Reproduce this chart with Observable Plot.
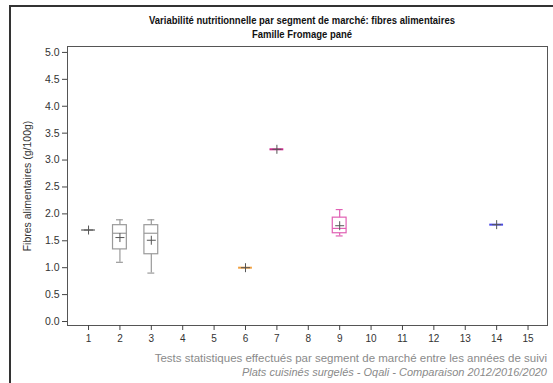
<!DOCTYPE html>
<html><head><meta charset="utf-8">
<script src="https://cdn.jsdelivr.net/npm/d3@7"></script>
<script src="https://cdn.jsdelivr.net/npm/@observablehq/plot@0.6"></script>
<style>
body{margin:0;background:#fff;font-family:"Liberation Sans",Arial,sans-serif;}
#wrap{position:relative;width:553px;height:383px;overflow:hidden;}
#bl{position:absolute;left:9px;top:5px;width:2px;height:378px;background:#333;}
#bt{position:absolute;left:9px;top:5px;width:544px;height:2px;background:#333;}
#title{position:absolute;left:57px;width:490px;top:14px;text-align:center;font-weight:bold;font-size:10.2px;line-height:14px;color:#111;transform:scaleX(0.93);}
#cap{position:absolute;right:6px;top:351px;text-align:right;font-size:11.5px;line-height:14px;color:#8a8a8a;}
#cap i{font-size:11px;}
#chart{position:absolute;left:0;top:0;}
</style></head>
<body><div id="wrap"><div id="chart"></div><div id="bl"></div><div id="bt"></div>
<div id="title">Variabilité nutritionnelle par segment de marché: fibres alimentaires<br>Famille Fromage pané</div>
<div id="cap">Tests statistiques effectués par segment de marché entre les années de suivi<br><i>Plats cuisinés surgelés - Oqali - Comparaison 2012/2016/2020</i></div>
</div>
<script>
const segments = [1, 2, 3, 6, 7, 9, 14];
const minV     = [1.7, 1.1, 0.9, 1.0, 3.2, 1.59, 1.8];
const q1V      = [1.7, 1.34, 1.25, 1.0, 3.2, 1.64, 1.8];
const medV     = [1.7, 1.64, 1.64, 1.0, 3.2, 1.73, 1.8];
const q3V      = [1.7, 1.79, 1.79, 1.0, 3.2, 1.93, 1.8];
const maxV     = [1.7, 1.89, 1.89, 1.0, 3.2, 2.08, 1.8];
const meanV    = [1.7, 1.56, 1.51, 1.0, 3.2, 1.78, 1.8];
const colors   = ["#9a9a9a", "#9a9a9a", "#9a9a9a", "#f0a040", "#c8288a", "#e060b4", "#4a4ae6"];
const xTicks = d3.range(1, 16);
const yTicks = d3.range(0, 5.01, 0.5);

const data = segments.map((s, i) => ({seg: s, min: minV[i], q1: q1V[i], med: medV[i], q3: q3V[i], max: maxV[i], mean: meanV[i], color: colors[i], box: q3V[i] > q1V[i]}));
const boxes = data.filter(d => d.box);
const bw = 0.22, cw = 0.11;

const chart = Plot.plot({
  width: 553, height: 383,
  marginLeft: 67, marginRight: 6, marginTop: 46, marginBottom: 58,
  style: {fontFamily: "Liberation Sans, Arial, sans-serif", fontSize: "10px", color: "#333"},
  x: {domain: [0.33, 15.62], ticks: xTicks, tickFormat: d => d, label: null, tickSize: 5, tickPadding: 4},
  y: {domain: [-0.074, 5.11], ticks: yTicks, tickFormat: d3.format(".1f"), label: null, tickSize: 5, tickPadding: 3},
  marks: [
    Plot.frame({stroke: "#555"}),
    Plot.axisY({ticks: yTicks, tickFormat: d3.format(".1f"), tickSize: 5, tickPadding: 3, label: "Fibres alimentaires (g/100g)", labelAnchor: "center", labelArrow: "none", labelOffset: 44, fontSize: 10.5, stroke: "#444"}),
    Plot.axisX({ticks: xTicks, tickFormat: d => d, tickSize: 5, tickPadding: 4, label: null, stroke: "#444"}),
    // whiskers
    Plot.ruleX(boxes, {x: "seg", y1: "q3", y2: "max", stroke: "color", strokeWidth: 1.2}),
    Plot.ruleX(boxes, {x: "seg", y1: "min", y2: "q1", stroke: "color", strokeWidth: 1.2}),
    Plot.ruleY(boxes, {y: "max", x1: d => d.seg - cw, x2: d => d.seg + cw, stroke: "color", strokeWidth: 1.2}),
    Plot.ruleY(boxes, {y: "min", x1: d => d.seg - cw, x2: d => d.seg + cw, stroke: "color", strokeWidth: 1.2}),
    Plot.rect(boxes, {x1: d => d.seg - bw, x2: d => d.seg + bw, y1: "q1", y2: "q3", stroke: "color", fill: "none", strokeWidth: 1.2}),
    Plot.ruleY(data, {y: "med", x1: d => d.seg - bw, x2: d => d.seg + bw, stroke: "color", strokeWidth: d => d.box ? 1.2 : 2}),
    Plot.dot(data, {x: "seg", y: "mean", symbol: "plus", r: 3, stroke: "#555", strokeWidth: 1})
  ]
});
document.getElementById("chart").appendChild(chart);
</script>
</body></html>
